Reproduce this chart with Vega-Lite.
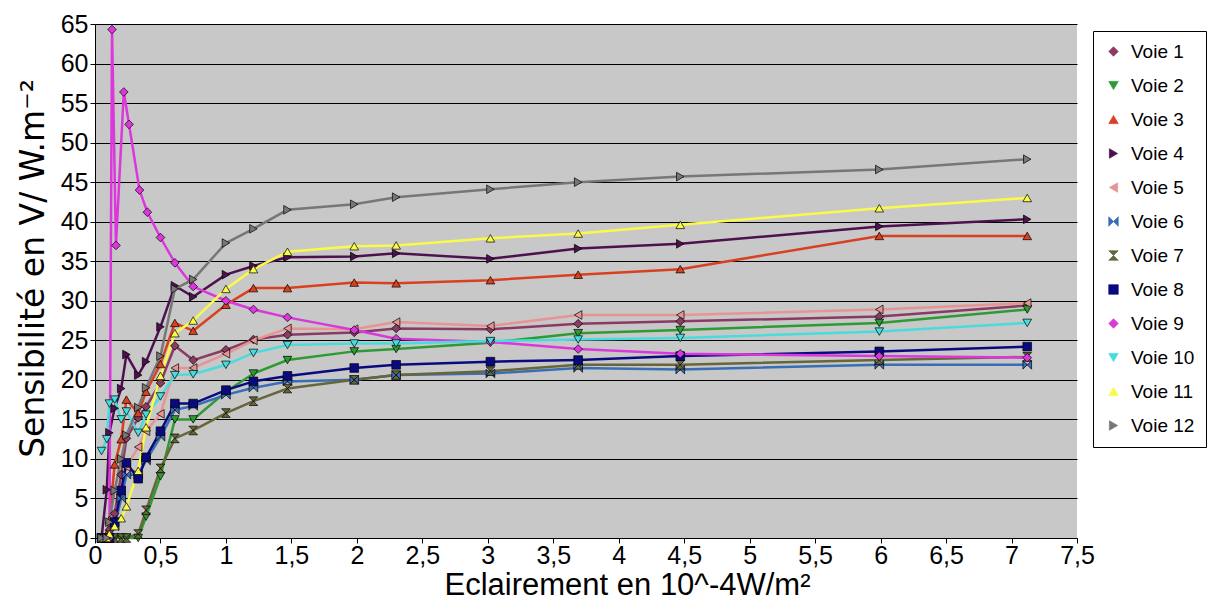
{
"$schema": "https://vega.github.io/schema/vega-lite/v6.json",
"width": 982, "height": 514,
"autosize": {"type": "none"},
"padding": {"left": 95, "top": 24, "right": 131, "bottom": 72},
"background": "white",
"config": {
 "view": {"fill": "#C8C8C8", "stroke": null},
 "font": "Liberation Sans",
 "axis": {"domainColor": "black", "tickColor": "black", "tickSize": 5, "labelFontSize": 25, "labelColor": "black", "titleFontSize": 31, "titleFontWeight": "normal", "titleColor": "black", "labelOverlap": false, "labelFlush": false},
 "axisY": {"grid": true, "gridColor": "black", "gridOpacity": 1, "gridWidth": 1},
 "axisX": {"grid": false}
},
"datasets": {
 "main": [
{"s":"Voie 1","x":0.05,"y":0},{"s":"Voie 1","x":0.09,"y":0},{"s":"Voie 1","x":0.11,"y":1},{"s":"Voie 1","x":0.15,"y":3.1},{"s":"Voie 1","x":0.2,"y":8},{"s":"Voie 1","x":0.24,"y":12.6},{"s":"Voie 1","x":0.33,"y":15.2},{"s":"Voie 1","x":0.39,"y":16.6},{"s":"Voie 1","x":0.5,"y":19.6},{"s":"Voie 1","x":0.61,"y":24.3},{"s":"Voie 1","x":0.75,"y":22.5},{"s":"Voie 1","x":1.0,"y":23.8},{"s":"Voie 1","x":1.21,"y":25.1},{"s":"Voie 1","x":1.47,"y":25.7},{"s":"Voie 1","x":1.98,"y":26.0},{"s":"Voie 1","x":2.3,"y":26.5},{"s":"Voie 1","x":3.02,"y":26.4},{"s":"Voie 1","x":3.69,"y":27.1},{"s":"Voie 1","x":4.47,"y":27.4},{"s":"Voie 1","x":5.99,"y":28.0},{"s":"Voie 1","x":7.12,"y":29.4},
{"s":"Voie 2","x":0.05,"y":0},{"s":"Voie 2","x":0.09,"y":0},{"s":"Voie 2","x":0.11,"y":0},{"s":"Voie 2","x":0.15,"y":0},{"s":"Voie 2","x":0.2,"y":0},{"s":"Voie 2","x":0.24,"y":0},{"s":"Voie 2","x":0.33,"y":0},{"s":"Voie 2","x":0.39,"y":2.7},{"s":"Voie 2","x":0.5,"y":7.8},{"s":"Voie 2","x":0.61,"y":15},{"s":"Voie 2","x":0.75,"y":15},{"s":"Voie 2","x":1.0,"y":18.5},{"s":"Voie 2","x":1.21,"y":20.8},{"s":"Voie 2","x":1.47,"y":22.5},{"s":"Voie 2","x":1.98,"y":23.6},{"s":"Voie 2","x":2.3,"y":23.9},{"s":"Voie 2","x":3.02,"y":24.7},{"s":"Voie 2","x":3.69,"y":25.9},{"s":"Voie 2","x":4.47,"y":26.3},{"s":"Voie 2","x":5.99,"y":27.2},{"s":"Voie 2","x":7.12,"y":28.9},
{"s":"Voie 3","x":0.05,"y":0},{"s":"Voie 3","x":0.09,"y":0.5},{"s":"Voie 3","x":0.11,"y":2.3},{"s":"Voie 3","x":0.15,"y":9.3},{"s":"Voie 3","x":0.2,"y":12.5},{"s":"Voie 3","x":0.24,"y":17.5},{"s":"Voie 3","x":0.33,"y":15.8},{"s":"Voie 3","x":0.39,"y":18.5},{"s":"Voie 3","x":0.5,"y":22},{"s":"Voie 3","x":0.61,"y":27.2},{"s":"Voie 3","x":0.75,"y":26.2},{"s":"Voie 3","x":1.0,"y":29.5},{"s":"Voie 3","x":1.21,"y":31.6},{"s":"Voie 3","x":1.47,"y":31.6},{"s":"Voie 3","x":1.98,"y":32.3},{"s":"Voie 3","x":2.3,"y":32.2},{"s":"Voie 3","x":3.02,"y":32.6},{"s":"Voie 3","x":3.69,"y":33.3},{"s":"Voie 3","x":4.47,"y":34.0},{"s":"Voie 3","x":5.99,"y":38.2},{"s":"Voie 3","x":7.12,"y":38.2},
{"s":"Voie 4","x":0.05,"y":0},{"s":"Voie 4","x":0.09,"y":6.1},{"s":"Voie 4","x":0.11,"y":13.3},{"s":"Voie 4","x":0.15,"y":16.4},{"s":"Voie 4","x":0.2,"y":18.9},{"s":"Voie 4","x":0.24,"y":23.2},{"s":"Voie 4","x":0.33,"y":20.6},{"s":"Voie 4","x":0.39,"y":22.3},{"s":"Voie 4","x":0.5,"y":26.7},{"s":"Voie 4","x":0.61,"y":31.9},{"s":"Voie 4","x":0.75,"y":30.5},{"s":"Voie 4","x":1.0,"y":33.3},{"s":"Voie 4","x":1.21,"y":34.4},{"s":"Voie 4","x":1.47,"y":35.5},{"s":"Voie 4","x":1.98,"y":35.6},{"s":"Voie 4","x":2.3,"y":36.0},{"s":"Voie 4","x":3.02,"y":35.3},{"s":"Voie 4","x":3.69,"y":36.6},{"s":"Voie 4","x":4.47,"y":37.2},{"s":"Voie 4","x":5.99,"y":39.4},{"s":"Voie 4","x":7.12,"y":40.3},
{"s":"Voie 5","x":0.05,"y":0},{"s":"Voie 5","x":0.09,"y":0},{"s":"Voie 5","x":0.11,"y":0},{"s":"Voie 5","x":0.15,"y":2},{"s":"Voie 5","x":0.2,"y":6},{"s":"Voie 5","x":0.24,"y":9},{"s":"Voie 5","x":0.33,"y":11.5},{"s":"Voie 5","x":0.39,"y":13.5},{"s":"Voie 5","x":0.5,"y":15.7},{"s":"Voie 5","x":0.61,"y":21.5},{"s":"Voie 5","x":0.75,"y":21.5},{"s":"Voie 5","x":1.0,"y":23.3},{"s":"Voie 5","x":1.21,"y":25},{"s":"Voie 5","x":1.47,"y":26.5},{"s":"Voie 5","x":1.98,"y":26.4},{"s":"Voie 5","x":2.3,"y":27.3},{"s":"Voie 5","x":3.02,"y":26.8},{"s":"Voie 5","x":3.69,"y":28.2},{"s":"Voie 5","x":4.47,"y":28.2},{"s":"Voie 5","x":5.99,"y":28.9},{"s":"Voie 5","x":7.12,"y":29.7},
{"s":"Voie 6","x":0.05,"y":0},{"s":"Voie 6","x":0.09,"y":0},{"s":"Voie 6","x":0.11,"y":0},{"s":"Voie 6","x":0.15,"y":1.5},{"s":"Voie 6","x":0.2,"y":5},{"s":"Voie 6","x":0.24,"y":8},{"s":"Voie 6","x":0.33,"y":8},{"s":"Voie 6","x":0.39,"y":9.8},{"s":"Voie 6","x":0.5,"y":12.8},{"s":"Voie 6","x":0.61,"y":16.2},{"s":"Voie 6","x":0.75,"y":16.7},{"s":"Voie 6","x":1.0,"y":18.1},{"s":"Voie 6","x":1.21,"y":19.0},{"s":"Voie 6","x":1.47,"y":19.8},{"s":"Voie 6","x":1.98,"y":20.0},{"s":"Voie 6","x":2.3,"y":20.6},{"s":"Voie 6","x":3.02,"y":20.8},{"s":"Voie 6","x":3.69,"y":21.5},{"s":"Voie 6","x":4.47,"y":21.3},{"s":"Voie 6","x":5.99,"y":21.9},{"s":"Voie 6","x":7.12,"y":21.9},
{"s":"Voie 7","x":0.05,"y":0},{"s":"Voie 7","x":0.09,"y":0},{"s":"Voie 7","x":0.11,"y":0},{"s":"Voie 7","x":0.15,"y":0},{"s":"Voie 7","x":0.2,"y":0},{"s":"Voie 7","x":0.24,"y":0},{"s":"Voie 7","x":0.33,"y":0.5},{"s":"Voie 7","x":0.39,"y":3.5},{"s":"Voie 7","x":0.5,"y":8.8},{"s":"Voie 7","x":0.61,"y":12.6},{"s":"Voie 7","x":0.75,"y":13.6},{"s":"Voie 7","x":1.0,"y":15.8},{"s":"Voie 7","x":1.21,"y":17.3},{"s":"Voie 7","x":1.47,"y":18.9},{"s":"Voie 7","x":1.98,"y":20.0},{"s":"Voie 7","x":2.3,"y":20.6},{"s":"Voie 7","x":3.02,"y":21.1},{"s":"Voie 7","x":3.69,"y":21.9},{"s":"Voie 7","x":4.47,"y":21.9},{"s":"Voie 7","x":5.99,"y":22.5},{"s":"Voie 7","x":7.12,"y":22.9},
{"s":"Voie 8","x":0.05,"y":0},{"s":"Voie 8","x":0.09,"y":0},{"s":"Voie 8","x":0.11,"y":0},{"s":"Voie 8","x":0.15,"y":2},{"s":"Voie 8","x":0.2,"y":6},{"s":"Voie 8","x":0.24,"y":9.5},{"s":"Voie 8","x":0.33,"y":7.5},{"s":"Voie 8","x":0.39,"y":10.2},{"s":"Voie 8","x":0.5,"y":13.5},{"s":"Voie 8","x":0.61,"y":17.0},{"s":"Voie 8","x":0.75,"y":17.0},{"s":"Voie 8","x":1.0,"y":18.7},{"s":"Voie 8","x":1.21,"y":19.8},{"s":"Voie 8","x":1.47,"y":20.5},{"s":"Voie 8","x":1.98,"y":21.5},{"s":"Voie 8","x":2.3,"y":21.9},{"s":"Voie 8","x":3.02,"y":22.3},{"s":"Voie 8","x":3.69,"y":22.5},{"s":"Voie 8","x":4.47,"y":23.0},{"s":"Voie 8","x":5.99,"y":23.6},{"s":"Voie 8","x":7.12,"y":24.2},
{"s":"Voie 9","x":0.11,"y":0},{"s":"Voie 9","x":0.13,"y":64.3},{"s":"Voie 9","x":0.16,"y":37},{"s":"Voie 9","x":0.22,"y":56.4},{"s":"Voie 9","x":0.26,"y":52.3},{"s":"Voie 9","x":0.34,"y":44},{"s":"Voie 9","x":0.4,"y":41.2},{"s":"Voie 9","x":0.5,"y":38},{"s":"Voie 9","x":0.61,"y":34.8},{"s":"Voie 9","x":0.75,"y":31.8},{"s":"Voie 9","x":1.0,"y":30},{"s":"Voie 9","x":1.21,"y":28.9},{"s":"Voie 9","x":1.47,"y":27.9},{"s":"Voie 9","x":1.98,"y":26.3},{"s":"Voie 9","x":2.3,"y":25.2},{"s":"Voie 9","x":3.02,"y":24.8},{"s":"Voie 9","x":3.69,"y":23.9},{"s":"Voie 9","x":4.47,"y":23.3},{"s":"Voie 9","x":5.99,"y":23.0},{"s":"Voie 9","x":7.12,"y":22.8},
{"s":"Voie 10","x":0.05,"y":11},{"s":"Voie 10","x":0.09,"y":12.5},{"s":"Voie 10","x":0.11,"y":17},{"s":"Voie 10","x":0.15,"y":17.5},{"s":"Voie 10","x":0.2,"y":15},{"s":"Voie 10","x":0.24,"y":16},{"s":"Voie 10","x":0.33,"y":13.3},{"s":"Voie 10","x":0.39,"y":15.6},{"s":"Voie 10","x":0.5,"y":17.9},{"s":"Voie 10","x":0.61,"y":20.6},{"s":"Voie 10","x":0.75,"y":20.7},{"s":"Voie 10","x":1.0,"y":21.9},{"s":"Voie 10","x":1.21,"y":23.4},{"s":"Voie 10","x":1.47,"y":24.4},{"s":"Voie 10","x":1.98,"y":24.6},{"s":"Voie 10","x":2.3,"y":24.6},{"s":"Voie 10","x":3.02,"y":24.9},{"s":"Voie 10","x":3.69,"y":25.1},{"s":"Voie 10","x":4.47,"y":25.3},{"s":"Voie 10","x":5.99,"y":26.1},{"s":"Voie 10","x":7.12,"y":27.2},
{"s":"Voie 11","x":0.05,"y":0},{"s":"Voie 11","x":0.09,"y":0},{"s":"Voie 11","x":0.11,"y":0.5},{"s":"Voie 11","x":0.15,"y":1.5},{"s":"Voie 11","x":0.2,"y":2.5},{"s":"Voie 11","x":0.24,"y":4},{"s":"Voie 11","x":0.33,"y":8.5},{"s":"Voie 11","x":0.39,"y":14},{"s":"Voie 11","x":0.5,"y":20.5},{"s":"Voie 11","x":0.61,"y":25.9},{"s":"Voie 11","x":0.75,"y":27.5},{"s":"Voie 11","x":1.0,"y":31.5},{"s":"Voie 11","x":1.21,"y":34},{"s":"Voie 11","x":1.47,"y":36.2},{"s":"Voie 11","x":1.98,"y":36.9},{"s":"Voie 11","x":2.3,"y":37},{"s":"Voie 11","x":3.02,"y":37.9},{"s":"Voie 11","x":3.69,"y":38.5},{"s":"Voie 11","x":4.47,"y":39.6},{"s":"Voie 11","x":5.99,"y":41.7},{"s":"Voie 11","x":7.12,"y":43.0},
{"s":"Voie 12","x":0.05,"y":0},{"s":"Voie 12","x":0.09,"y":0},{"s":"Voie 12","x":0.11,"y":2},{"s":"Voie 12","x":0.15,"y":6},{"s":"Voie 12","x":0.2,"y":10},{"s":"Voie 12","x":0.24,"y":13},{"s":"Voie 12","x":0.33,"y":16.5},{"s":"Voie 12","x":0.39,"y":19},{"s":"Voie 12","x":0.5,"y":23},{"s":"Voie 12","x":0.61,"y":31.5},{"s":"Voie 12","x":0.75,"y":32.7},{"s":"Voie 12","x":1.0,"y":37.3},{"s":"Voie 12","x":1.21,"y":39.1},{"s":"Voie 12","x":1.47,"y":41.5},{"s":"Voie 12","x":1.98,"y":42.2},{"s":"Voie 12","x":2.3,"y":43.1},{"s":"Voie 12","x":3.02,"y":44.1},{"s":"Voie 12","x":3.69,"y":45.0},{"s":"Voie 12","x":4.47,"y":45.7},{"s":"Voie 12","x":5.99,"y":46.6},{"s":"Voie 12","x":7.12,"y":47.9}
 ],
 "vline": [{"x": 1.5}]
},
"data": {"name": "main"},
"encoding": {
 "x": {"field": "x", "type": "quantitative", "scale": {"domain": [0, 7.5], "nice": false, "zero": false}, "axis": {"values": [0,0.5,1,1.5,2,2.5,3,3.5,4,4.5,5,5.5,6,6.5,7,7.5], "labelExpr": "replace(toString(datum.value), '.', ',')", "title": "Eclairement en 10^-4W/m²", "titlePadding": 2, "labelPadding": 0, "titleX": 532, "titleAlign": "center"}},
 "y": {"field": "y", "type": "quantitative", "scale": {"domain": [0, 65], "nice": false, "zero": false}, "axis": {"values": [0,5,10,15,20,25,30,35,40,45,50,55,60,65], "tickCount": 14, "title": "Sensibilité en  V/ W.m⁻²", "titleFont": "DejaVu Sans", "titleFontSize": 33, "titlePadding": 10, "labelPadding": 2, "titleY": 244}},
 "color": {"field": "s", "type": "nominal", "scale": {"domain": ["Voie 1","Voie 2","Voie 3","Voie 4","Voie 5","Voie 6","Voie 7","Voie 8","Voie 9","Voie 10","Voie 11","Voie 12"], "range": ["#8B3A62","#2E9A34","#D8401F","#4E1150","#E89494","#3A6EB4","#66663A","#0A0A80","#DB38DB","#48DCDC","#FAFA4A","#777777"]},
   "legend": {"title": null, "orient": "none", "legendX": 998, "legendY": 7, "strokeColor": "black", "fillColor": "white", "padding": 11, "labelFontSize": 19, "labelColor": "black", "symbolSize": 90, "symbolStrokeColor": "black", "symbolStrokeWidth": 0.7, "rowPadding": 14, "labelOffset": 8, "labelLimit": 300, "cornerRadius": 0}}
},
"layer": [
 {
  "data": {"name": "vline"},
  "mark": {"type": "rule", "color": "black", "strokeWidth": 1},
  "encoding": {"x": {"field": "x", "type": "quantitative"}, "y": {"datum": 0}, "y2": {"datum": 65}, "color": {"value": "black"}}
 },
 {
  "mark": {"type": "line", "strokeWidth": 2.5, "interpolate": "linear"}
 },
 {
  "mark": {"type": "point", "filled": true, "opacity": 1, "stroke": "black", "strokeWidth": 0.7, "size": 75},
  "encoding": {
   "shape": {"field": "s", "type": "nominal", "scale": {"domain": ["Voie 1","Voie 2","Voie 3","Voie 4","Voie 5","Voie 6","Voie 7","Voie 8","Voie 9","Voie 10","Voie 11","Voie 12"], "range": ["diamond","triangle-down","triangle-up","triangle-right","triangle-left","M-1,-1L1,1L1,-1L-1,1Z","M-1,-1L1,-1L-1,1L1,1Z","square","diamond","triangle-down","triangle-up","triangle-right"]}, "legend": {"title": null, "orient": "none", "legendX": 998, "legendY": 7, "strokeColor": "black", "fillColor": "white", "padding": 11, "labelFontSize": 19, "labelColor": "black", "symbolSize": 90, "symbolStrokeColor": "black", "symbolStrokeWidth": 0.7, "rowPadding": 14, "labelOffset": 8, "labelLimit": 300, "cornerRadius": 0}}
  }
 }
]
}
